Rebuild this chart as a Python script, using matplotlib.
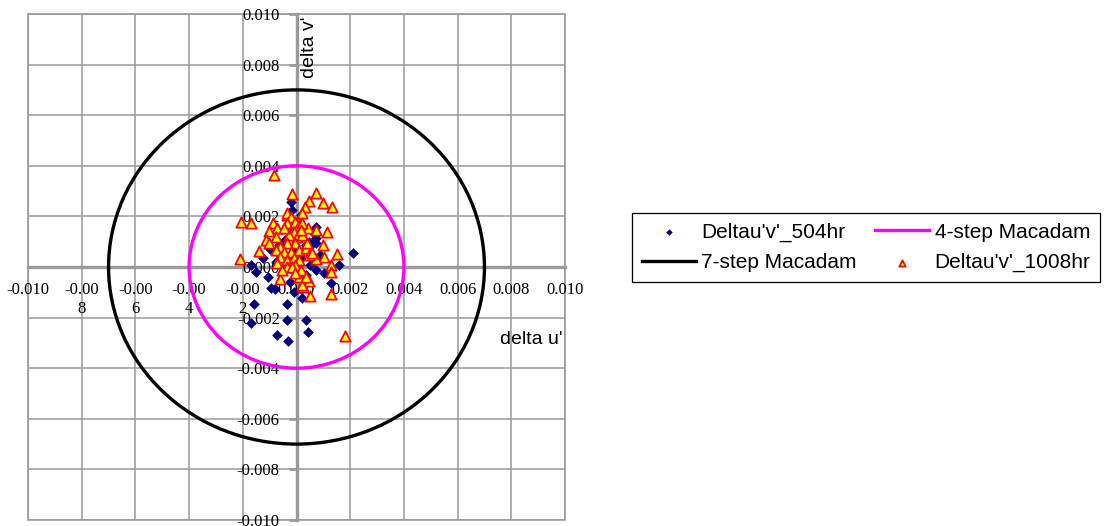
import matplotlib
matplotlib.use("Agg")
import matplotlib.pyplot as plt
from matplotlib.lines import Line2D
from matplotlib.patches import Circle, Rectangle

# ---------------- data ----------------
ticks = [-0.010, -0.008, -0.006, -0.004, -0.002, 0.000, 0.002, 0.004, 0.006, 0.008, 0.010]
x_tick_labels = ["-0.010", "-0.00\n8", "-0.00\n6", "-0.00\n4", "-0.00\n2", "0.000",
                 "0.002", "0.004", "0.006", "0.008", "0.010"]
y_tick_labels = ["-0.010", "-0.008", "-0.006", "-0.004", "-0.002", "0.000",
                 "0.002", "0.004", "0.006", "0.008", "0.010"]

radius_4step = 0.004
radius_7step = 0.007

u_504 = [0.00211, 0.00160, 0.00104, 0.00127, 0.00074, 0.00071, -0.00171, -0.00149, -0.00094,
         -0.00159, -0.00169, -0.00037, -0.00037, 0.00034, 0.00044, -0.00074, -0.00032, -0.00099,
         -0.00022, 0.00021, -0.00010, -0.00107, -0.00081, 0.00058, 0.00074, 0.00046, -0.00015,
         0.00015, -0.00041, -0.00004, 0.00034, -0.00060, -0.00022, 0.00015, 0.00052, -0.00048,
         -0.00004, 0.00034, -0.00078, -0.00123, 0.00089, 0.00007, -0.00030, 0.00060, -0.00067,
         0.00071, -0.00026]
v_504 = [0.00057, 0.00008, -0.00025, -0.00064, 0.00113, 0.00095, 0.00008, -0.00020, -0.00084,
         -0.00147, -0.00223, -0.00147, -0.00209, -0.00209, -0.00258, -0.00269, -0.00292, 0.00070,
         0.00258, -0.00124, -0.00098, -0.00038, -0.00087, 0.00091, 0.00159, 0.00100, 0.00225,
         0.00206, 0.00107, 0.00075, 0.00087, 0.00047, 0.00020, 0.00036, 0.00008, -0.00004,
         -0.00020, -0.00032, 0.00020, 0.00036, 0.00047, 0.00138, 0.00154, 0.00138, 0.00087,
         -0.00012, -0.00059]

u_1008 = [-0.00082, -0.00015, 0.00074, 0.00045, 0.00097, 0.00134, 0.00030, 0.00022, 0.00007,
          0.00041, 0.00074, 0.00112, -0.00205, -0.00168, -0.00086, -0.00034, -0.00071, -0.00104,
          -0.00115, -0.00138, -0.00212, 0.00149, 0.00104, 0.00074, 0.00127, 0.00127, 0.00097,
          -0.00060, 0.00045, 0.00026, 0.00052, 0.00130, 0.00179, 0.00011, 0.00022,
          -0.00035, -0.00022, -0.00037, -0.00004, 0.00009, -0.00010, -0.00029, 0.00003, 0.00021,
          -0.00004, -0.00035, -0.00060, -0.00078, -0.00047, -0.00022, 0.00009, 0.00034, 0.00046,
          -0.00060, -0.00035, -0.00010, 0.00009, -0.00004, -0.00035, -0.00072, -0.00053, -0.00016,
          0.00015, -0.00004, 0.00034, -0.00078, -0.00103, 0.00021, 0.00015, -0.00047, 0.00040,
          0.00058]
v_1008 = [0.00364, 0.00289, 0.00292, 0.00261, 0.00253, 0.00237, 0.00237, 0.00213, 0.00178,
          0.00154, 0.00146, 0.00138, 0.00178, 0.00174, 0.00174, 0.00206, 0.00154, 0.00142,
          0.00107, 0.00063, 0.00032, 0.00051, 0.00040, 0.00032, 0.00008, -0.00020, 0.00087,
          -0.00047, -0.00055, -0.00079, -0.00115, -0.00107, -0.00273, -0.00040, -0.00071,
          0.00212, 0.00198, 0.00174, 0.00179, 0.00166, 0.00140, 0.00126, 0.00120, 0.00126,
          0.00094, 0.00094, 0.00080, 0.00067, 0.00060, 0.00060, 0.00067, 0.00074, 0.00047,
          0.00041, 0.00028, 0.00034, 0.00028, 0.00008, 0.00001, 0.00015, -0.00012, 0.00001,
          -0.00012, -0.00025, -0.00038, 0.00120, 0.00094, 0.00173, 0.00146, 0.00153, 0.00094,
          0.00054]

labels = ["Deltau'v'_504hr", "7-step Macadam", "4-step Macadam", "Deltau'v'_1008hr"]

# ---------------- style ----------------
grid_col = "#9a9a9a"
serif = "Liberation Serif"
sans = "Liberation Sans"

fig = plt.figure(figsize=(11.04, 5.26), dpi=100)
ax = fig.add_axes([28 / 1104, 1 - 520 / 526, 537 / 1104, 506 / 526])
ax.set_xlim(ticks[0], ticks[-1])
ax.set_ylim(ticks[0], ticks[-1])

for t in ticks:
    ax.axvline(t, color=grid_col, lw=1.1, zorder=0)
    ax.axhline(t, color=grid_col, lw=1.1, zorder=0)

ax.add_patch(Rectangle((0, 0), 1, 1, transform=ax.transAxes, fill=False,
                       edgecolor=grid_col, lw=1.2, clip_on=False, zorder=0))

for s in ["top", "right"]:
    ax.spines[s].set_visible(False)
for s in ["left", "bottom"]:
    ax.spines[s].set_position(("data", 0))
    ax.spines[s].set_color(grid_col)
    ax.spines[s].set_linewidth(2.4)
    ax.spines[s].set_zorder(1)

ax.set_xticks(ticks)
ax.set_xticklabels(x_tick_labels, fontfamily=serif, fontsize=12, linespacing=1.2)
ax.set_yticks(ticks)
ax.set_yticklabels(y_tick_labels, fontfamily=serif, fontsize=12)
ax.tick_params(axis="x", length=0, pad=11)
ax.tick_params(axis="y", direction="out", length=6, width=2, color=grid_col, pad=6)

ax.add_patch(Circle((0, 0), radius_7step, fill=False, edgecolor="black", lw=2.4, zorder=2))
ax.add_patch(Circle((0, 0), radius_4step, fill=False, edgecolor="#ff00ff", lw=2.4, zorder=2))

h504 = ax.scatter(u_504, v_504, marker="D", s=30, color="#000080", linewidths=0, zorder=3)
h1008 = ax.scatter(u_1008, v_1008, marker="^", s=55, facecolor="#ffff00",
                   edgecolor="#ff0000", linewidths=1.3, zorder=4)

ax.text(0.525, 0.935, "delta v'", transform=ax.transAxes, rotation=90,
        ha="center", va="center", fontsize=14, fontfamily=sans)
ax.text(0.937, 0.356, "delta u'", transform=ax.transAxes,
        ha="center", va="center", fontsize=14, fontfamily=sans)

l7 = Line2D([], [], color="black", lw=2.4)
l4 = Line2D([], [], color="#ff00ff", lw=2.4)
leg = ax.legend(handles=[h504, l7, l4, h1008], labels=labels, ncol=2,
                loc="center", bbox_to_anchor=(866 / 1104, 1 - 247.5 / 526),
                bbox_transform=fig.transFigure, prop={"family": sans, "size": 15},
                frameon=True, fancybox=False, edgecolor="black", framealpha=1,
                handlelength=2.6, columnspacing=0.9, handletextpad=0.25,
                borderpad=0.45, labelspacing=0.55, markerscale=0.6, borderaxespad=0)
leg.get_frame().set_linewidth(0.9)

fig.savefig("out.png", dpi=100)
